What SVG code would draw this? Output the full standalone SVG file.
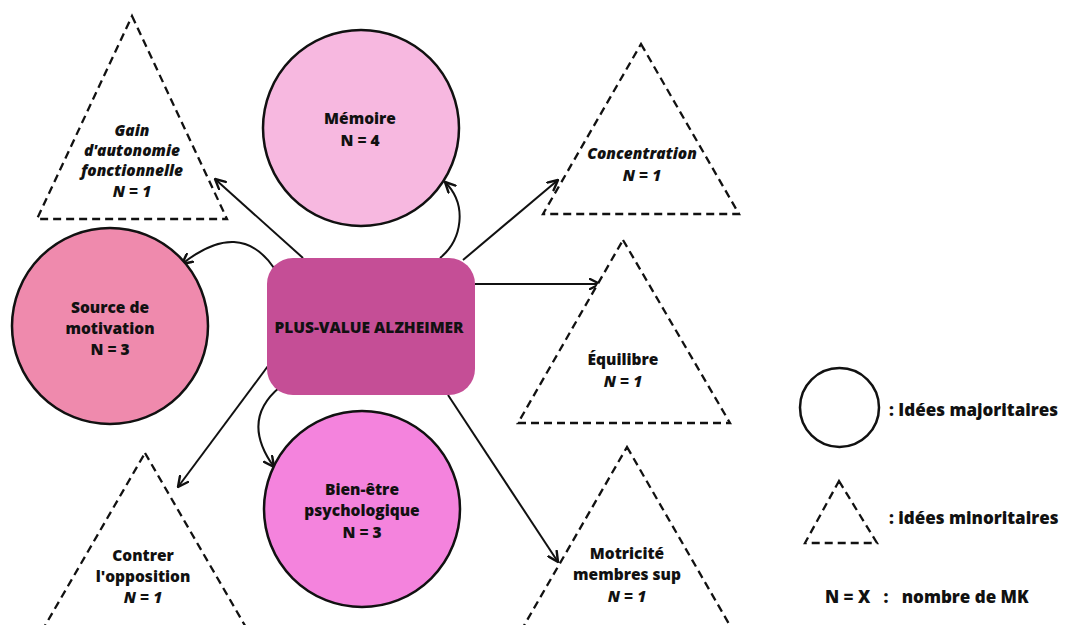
<svg xmlns="http://www.w3.org/2000/svg" width="1065" height="625" viewBox="0 0 1065 625">
  <defs>
    <style>
      .txt { font-family: "Open Sans", "Liberation Sans", sans-serif; font-weight: 800; font-size: 15.5px; fill: #111; text-anchor: middle; dominant-baseline: central; }
      .it { font-style: italic; }
      .major { stroke: #111; stroke-width: 2.5; }
      .minor { fill: #fff; stroke: #111; stroke-width: 2.3; stroke-dasharray: 8 5; stroke-linejoin: miter; }
      .link { fill: none; stroke: #111; stroke-width: 2; marker-end: url(#arrow); }
      .legend { font-family: "Open Sans", "Liberation Sans", sans-serif; font-weight: 800; font-size: 17px; fill: #111; dominant-baseline: central; }
    </style>
    <marker id="arrow" viewBox="0 0 12 12" refX="11" refY="6" markerWidth="12" markerHeight="12" markerUnits="userSpaceOnUse" orient="auto">
      <path d="M1,1 L11,6 L1,11" fill="none" stroke="#111" stroke-width="2.4" stroke-linecap="round" stroke-linejoin="round"/>
    </marker>
  </defs>
  <rect width="1065" height="625" fill="#fff"/>

  <!-- connectors from the central node -->
  <g id="connectors">
    <path class="link" d="M303,258 L215,179"/>
    <path class="link" d="M440,258 C462,240 468,205 445,182"/>
    <path class="link" d="M463,260 L558,180"/>
    <path class="link" d="M274,268 Q240,218 182,264"/>
    <path class="link" d="M475,284 L600,284"/>
    <path class="link" d="M268,366 L178,487"/>
    <path class="link" d="M280,387 Q240,420 274,467"/>
    <path class="link" d="M448,395 L558,562"/>
  </g>

  <g id="gain">
    <polygon class="minor" points="132,16 227,219 37,219"/>
    <text class="txt it" x="132" y="130">Gain</text>
    <text class="txt it" x="132" y="150">d'autonomie</text>
    <text class="txt it" x="132" y="170">fonctionnelle</text>
    <text class="txt it" x="132" y="191">N = 1</text>
  </g>

  <g id="memoire">
    <circle class="major" cx="361" cy="128" r="98" fill="#f7b8e0"/>
    <text class="txt" x="360" y="118">Mémoire</text>
    <text class="txt" x="360" y="140">N = 4</text>
  </g>

  <g id="concentration">
    <polygon class="minor" points="641,44 739,214 543,214"/>
    <text class="txt it" x="642" y="153">Concentration</text>
    <text class="txt it" x="642" y="175">N = 1</text>
  </g>

  <g id="motivation">
    <circle class="major" cx="110" cy="326" r="98" fill="#ef8aad"/>
    <text class="txt" x="110" y="307">Source de</text>
    <text class="txt" x="110" y="328">motivation</text>
    <text class="txt" x="110" y="349">N = 3</text>
  </g>

  <g id="centre">
    <rect x="267" y="258" width="208" height="137" rx="26" fill="#c54e96"/>
    <text class="txt" x="369" y="327">PLUS-VALUE ALZHEIMER</text>
  </g>

  <g id="equilibre">
    <polygon class="minor" points="623,240 730,423 518,423"/>
    <text class="txt" x="623" y="359">Équilibre</text>
    <text class="txt it" x="623" y="381">N = 1</text>
  </g>

  <g id="opposition">
    <polygon class="minor" points="145,453 251,636 39,636"/>
    <text class="txt" x="143" y="555">Contrer</text>
    <text class="txt" x="143" y="576">l'opposition</text>
    <text class="txt it" x="143" y="597">N = 1</text>
  </g>

  <g id="bien-etre">
    <circle class="major" cx="362" cy="509" r="98" fill="#f483dd"/>
    <text class="txt" x="362" y="489">Bien-être</text>
    <text class="txt" x="362" y="510">psychologique</text>
    <text class="txt" x="362" y="532">N = 3</text>
  </g>

  <g id="motricite">
    <polygon class="minor" points="627,447 736,636 518,636"/>
    <text class="txt" x="627" y="553">Motricité</text>
    <text class="txt" x="627" y="574">membres sup</text>
    <text class="txt it" x="627" y="596">N = 1</text>
  </g>

  <!-- legend -->
  <g id="legend">
    <circle cx="839.5" cy="407.5" r="39.5" fill="#fff" stroke="#111" stroke-width="2.5"/>
    <text class="legend" x="889" y="409">: Idées majoritaires</text>
    <polygon class="minor" points="839,481 877,543 805,543"/>
    <text class="legend" x="889" y="517">: idées minoritaires</text>
    <text class="legend" x="825" y="596" xml:space="preserve">N = X   :   nombre de MK</text>
  </g>
</svg>
